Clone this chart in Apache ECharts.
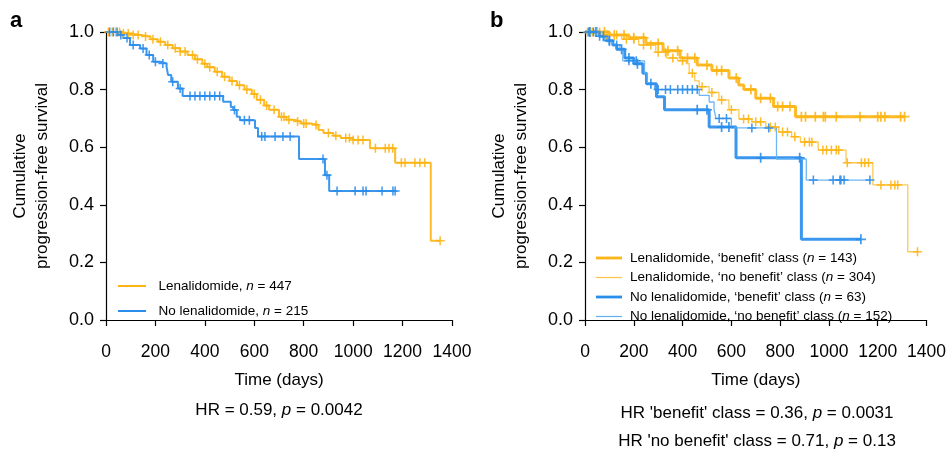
<!DOCTYPE html>
<html>
<head>
<meta charset="utf-8">
<script src="https://cdn.jsdelivr.net/npm/echarts@6/dist/echarts.min.js"></script>
<style>
html,body{margin:0;padding:0;background:#fff;}
#chart{width:949px;height:454px;}
</style>
</head>
<body>
<div id="chart"></div>
<script>
// ---------- DATA ----------
const X_TICKS = [0, 200, 400, 600, 800, 1000, 1200, 1400];
const Y_TICKS = [0, 0.2, 0.4, 0.6, 0.8, 1.0];

// Panel a: Lenalidomide (n = 447)
const A_LEN_T = [0, 60, 100, 140, 180, 210, 240, 270, 300, 330, 360, 390, 410, 440, 470, 500, 530, 560, 590, 610, 640, 660, 700, 730, 760, 790, 830, 860, 880, 920, 950, 1000, 1068, 1170, 1314, 1352];
const A_LEN_S = [1.0, 0.995, 0.99, 0.984, 0.975, 0.966, 0.955, 0.944, 0.932, 0.92, 0.905, 0.89, 0.878, 0.862, 0.845, 0.83, 0.815, 0.80, 0.785, 0.765, 0.745, 0.73, 0.706, 0.695, 0.689, 0.682, 0.677, 0.66, 0.649, 0.64, 0.632, 0.625, 0.596, 0.546, 0.275, 0.275];
const A_LEN_CENS = [10, 25, 40, 55, 70, 90, 110, 130, 160, 190, 220, 250, 280, 300, 320, 350, 370, 400, 420, 450, 480, 510, 540, 570, 600, 625, 650, 680, 710, 720, 740, 775, 800, 810, 850, 900, 930, 970, 985, 1000, 1020, 1040, 1090, 1130, 1145, 1160, 1195, 1210, 1250, 1270, 1290, 1352];

// Panel a: No lenalidomide (n = 215)
const A_NO_T = [0, 50, 70, 97, 138, 164, 191, 218, 245, 251, 264, 291, 310, 474, 505, 515, 529, 542, 603, 615, 781, 886, 903, 1170];
const A_NO_S = [1.0, 0.99, 0.979, 0.955, 0.943, 0.92, 0.897, 0.891, 0.88, 0.851, 0.827, 0.804, 0.778, 0.758, 0.74, 0.729, 0.706, 0.694, 0.667, 0.637, 0.559, 0.503, 0.448, 0.448];
const A_NO_CENS = [15, 30, 45, 60, 85, 110, 150, 175, 200, 230, 270, 300, 340, 360, 380, 400, 420, 440, 460, 520, 560, 580, 630, 643, 684, 716, 745, 878, 894, 935, 1008, 1040, 1052, 1117, 1161, 1170];

// Panel b: Lenalidomide, 'benefit' class (n = 143)
const B_LEN_BEN_T = [0, 100, 180, 250, 320, 390, 460, 520, 590, 630, 651, 700, 773, 863, 1310];
const B_LEN_BEN_S = [1.0, 0.99, 0.98, 0.96, 0.935, 0.91, 0.885, 0.866, 0.84, 0.816, 0.80, 0.77, 0.741, 0.706, 0.706];
const B_LEN_BEN_CENS = [20, 50, 80, 120, 160, 200, 240, 300, 340, 380, 420, 450, 500, 540, 560, 620, 680, 720, 760, 790, 810, 840, 887, 904, 944, 977, 985, 1030, 1127, 1200, 1213, 1229, 1294, 1310];

// Panel b: Lenalidomide, 'no benefit' class (n = 304)
const B_LEN_NOB_T = [0, 80, 150, 220, 290, 334, 380, 415, 427, 450, 468, 509, 549, 590, 631, 684, 741, 794, 847, 883, 956, 1070, 1180, 1323, 1363];
const B_LEN_NOB_S = [1.0, 0.99, 0.975, 0.955, 0.93, 0.91, 0.90, 0.89, 0.857, 0.83, 0.81, 0.79, 0.764, 0.73, 0.698, 0.688, 0.67, 0.653, 0.636, 0.618, 0.59, 0.546, 0.469, 0.237, 0.237];
const B_LEN_NOB_CENS = [10, 30, 60, 90, 130, 170, 200, 240, 270, 300, 330, 360, 400, 440, 480, 520, 560, 600, 650, 670, 700, 720, 760, 780, 810, 830, 860, 900, 920, 930, 975, 990, 1010, 1030, 1040, 1075, 1133, 1147, 1162, 1213, 1254, 1270, 1282, 1363];

// Panel b: No lenalidomide, 'benefit' class (n = 63)
const B_NO_BEN_T = [0, 60, 90, 114, 130, 163, 200, 237, 252, 293, 326, 509, 619, 887, 1131];
const B_NO_BEN_S = [1.0, 0.985, 0.97, 0.955, 0.94, 0.91, 0.89, 0.857, 0.82, 0.775, 0.73, 0.67, 0.563, 0.28, 0.28];
const B_NO_BEN_CENS = [20, 45, 75, 100, 150, 180, 215, 270, 460, 500, 560, 590, 720, 880, 1131];

// Panel b: No lenalidomide, 'no benefit' class (n = 152)
const B_NO_NOB_T = [0, 50, 80, 110, 143, 155, 244, 256, 285, 468, 509, 529, 537, 600, 785, 907, 1172];
const B_NO_NOB_S = [1.0, 0.985, 0.97, 0.955, 0.94, 0.90, 0.857, 0.82, 0.80, 0.78, 0.757, 0.73, 0.70, 0.667, 0.559, 0.486, 0.486];
const B_NO_NOB_CENS = [15, 35, 60, 100, 130, 180, 210, 300, 330, 350, 380, 400, 420, 440, 460, 550, 580, 684, 753, 936, 1017, 1045, 1049, 1062, 1168];

// ---------- STYLE ----------
const ORANGE = '#FDB515';
const ORANGE_THIN = '#FCC446';
const BLUE = '#2A8DEB';
const BLUE_THIN = '#62B0F2';
const FONT = 'Liberation Sans, Arial, Helvetica, sans-serif';
const CROSS = 'path://M-0.17,-1H0.17V-0.17H1V0.17H0.17V1H-0.17V0.17H-1V-0.17H-0.17Z';
// legend line icons (invisible move-to points keep the full box height)
const ICON_THICK = 'path://M0,0M0,12M0,4.5H28V7.5H0Z';
const ICON_MED = 'path://M0,0M0,12M0,5H28V7H0Z';
const ICON_THIN = 'path://M0,0M0,12M0,5.35H28V6.65H0Z';

function pairs(T, S) { return T.map((t, i) => [t, S[i]]); }
function survAt(T, S, t) {
  let v = S[0];
  for (let i = 0; i < T.length; i++) { if (T[i] <= t) v = S[i]; }
  return v;
}
function censPairs(T, S, C) { return C.map(t => [t, survAt(T, S, t)]); }

function lineSeries(name, idx, T, S, color, width) {
  return {
    name: name, type: 'line', step: 'end', xAxisIndex: idx, yAxisIndex: idx,
    data: pairs(T, S), symbol: 'none', clip: false,
    lineStyle: { color: color, width: width, opacity: 0.92 },
    itemStyle: { color: color },
    z: 3
  };
}
function censSeries(idx, T, S, C, color, size) {
  return {
    type: 'scatter', xAxisIndex: idx, yAxisIndex: idx,
    data: censPairs(T, S, C), symbol: CROSS, symbolSize: size, clip: false,
    itemStyle: { color: color, opacity: 0.9 }, silent: true, z: 4
  };
}

function xAxisDef(idx) {
  return {
    type: 'value', gridIndex: idx, min: 0, max: 1400, interval: 200, offset: 11,
    axisLine: { show: true, lineStyle: { color: '#000', width: 1.2 } },
    axisTick: { show: true, length: 6, lineStyle: { color: '#000', width: 1.2 } },
    axisLabel: { color: '#000', fontSize: 17.5, fontFamily: FONT, margin: 12,
      formatter: v => String(v) },
    splitLine: { show: false },
    name: 'Time (days)', nameLocation: 'middle', nameGap: 41,
    nameTextStyle: { color: '#000', fontSize: 17, fontFamily: FONT }
  };
}
function yAxisDef(idx) {
  return {
    type: 'value', gridIndex: idx, min: 0, max: 1, interval: 0.2,
    axisLine: { show: true, lineStyle: { color: '#000', width: 1.2 } },
    axisTick: { show: true, length: 6, lineStyle: { color: '#000', width: 1.2 } },
    axisLabel: { color: '#000', fontSize: 18, fontFamily: FONT, margin: 12,
      formatter: v => v.toFixed(1) },
    splitLine: { show: false },
    name: 'Cumulative\nprogression-free survival', nameLocation: 'middle', nameGap: 53,
    nameTextStyle: { color: '#000', fontSize: 17, fontFamily: FONT, lineHeight: 22 }
  };
}

const NAME_A1 = 'Lenalidomide, n = 447';
const NAME_A2 = 'No lenalidomide, n = 215';
const NAME_B1 = 'Lenalidomide, ‘benefit’ class (n = 143)';
const NAME_B2 = 'Lenalidomide, ‘no benefit’ class (n = 304)';
const NAME_B3 = 'No lenalidomide, ‘benefit’ class (n = 63)';
const NAME_B4 = 'No lenalidomide, ‘no benefit’ class (n = 152)';

function legendFmt(name) {
  return name.replace(/\bn =/, '{i|n} =');
}
const RICH = { i: { fontStyle: 'italic', fontSize: 13.5, fontFamily: FONT, color: '#000' } };

const chart = echarts.init(document.getElementById('chart'), null, { renderer: 'canvas' });
chart.setOption({
  animation: false,
  backgroundColor: '#fff',
  textStyle: { fontFamily: FONT },
  grid: [
    { left: 106, top: 32, width: 346, height: 288 },
    { left: 585, top: 32, width: 344, height: 288 }
  ],
  xAxis: [xAxisDef(0), xAxisDef(1)],
  yAxis: [yAxisDef(0), yAxisDef(1)],
  legend: [
    {
      data: [
        { name: NAME_A1, icon: ICON_MED, itemStyle: { color: ORANGE } },
        { name: NAME_A2, icon: ICON_MED, itemStyle: { color: BLUE } }
      ],
      orient: 'vertical', left: 118, top: 279, padding: 0,
      itemWidth: 29, itemHeight: 12, itemGap: 11,
      formatter: legendFmt,
      textStyle: { color: '#000', fontSize: 13.5, fontFamily: FONT, padding: [0, 0, 0, 7], rich: RICH }
    },
    {
      data: [
        { name: NAME_B1, icon: ICON_THICK, itemStyle: { color: ORANGE } },
        { name: NAME_B2, icon: ICON_THIN, itemStyle: { color: ORANGE_THIN } },
        { name: NAME_B3, icon: ICON_THICK, itemStyle: { color: BLUE } },
        { name: NAME_B4, icon: ICON_THIN, itemStyle: { color: BLUE_THIN } }
      ],
      orient: 'vertical', left: 596, top: 251, padding: 0,
      itemWidth: 26, itemHeight: 12, itemGap: 5.5,
      formatter: legendFmt,
      textStyle: { color: '#000', fontSize: 13.5, fontFamily: FONT, padding: [0, 0, 0, 3], rich: RICH }
    }
  ],
  series: [
    lineSeries(NAME_A1, 0, A_LEN_T, A_LEN_S, ORANGE, 2),
    lineSeries(NAME_A2, 0, A_NO_T, A_NO_S, BLUE, 2),
    censSeries(0, A_LEN_T, A_LEN_S, A_LEN_CENS, ORANGE, 9),
    censSeries(0, A_NO_T, A_NO_S, A_NO_CENS, BLUE, 9),

    lineSeries(NAME_B1, 1, B_LEN_BEN_T, B_LEN_BEN_S, ORANGE, 3),
    lineSeries(NAME_B2, 1, B_LEN_NOB_T, B_LEN_NOB_S, ORANGE_THIN, 1.3),
    lineSeries(NAME_B3, 1, B_NO_BEN_T, B_NO_BEN_S, BLUE, 3),
    lineSeries(NAME_B4, 1, B_NO_NOB_T, B_NO_NOB_S, BLUE_THIN, 1.3),
    censSeries(1, B_LEN_BEN_T, B_LEN_BEN_S, B_LEN_BEN_CENS, ORANGE, 10),
    censSeries(1, B_LEN_NOB_T, B_LEN_NOB_S, B_LEN_NOB_CENS, ORANGE, 9),
    censSeries(1, B_NO_BEN_T, B_NO_BEN_S, B_NO_BEN_CENS, BLUE, 10),
    censSeries(1, B_NO_NOB_T, B_NO_NOB_S, B_NO_NOB_CENS, BLUE, 9)
  ],
  graphic: [
    { type: 'text', left: 10, top: 10, style: { text: 'a', font: 'bold 22px ' + FONT, fill: '#000' } },
    { type: 'text', left: 490, top: 10, style: { text: 'b', font: 'bold 22px ' + FONT, fill: '#000' } },
    { type: 'text', x: 279, y: 410, style: {
        text: 'HR = 0.59, {i|p} = 0.0042', fontSize: 17, fontFamily: FONT, fill: '#000',
        align: 'center', verticalAlign: 'middle',
        rich: { i: { fontStyle: 'italic', fontSize: 17, fontFamily: FONT, fill: '#000' } } } },
    { type: 'text', x: 757, y: 413, style: {
        text: "HR 'benefit' class = 0.36, {i|p} = 0.0031", fontSize: 17, fontFamily: FONT, fill: '#000',
        align: 'center', verticalAlign: 'middle',
        rich: { i: { fontStyle: 'italic', fontSize: 17, fontFamily: FONT, fill: '#000' } } } },
    { type: 'text', x: 757, y: 441, style: {
        text: "HR 'no benefit' class = 0.71, {i|p} = 0.13", fontSize: 17, fontFamily: FONT, fill: '#000',
        align: 'center', verticalAlign: 'middle',
        rich: { i: { fontStyle: 'italic', fontSize: 17, fontFamily: FONT, fill: '#000' } } } }
  ]
});
</script>
</body>
</html>
